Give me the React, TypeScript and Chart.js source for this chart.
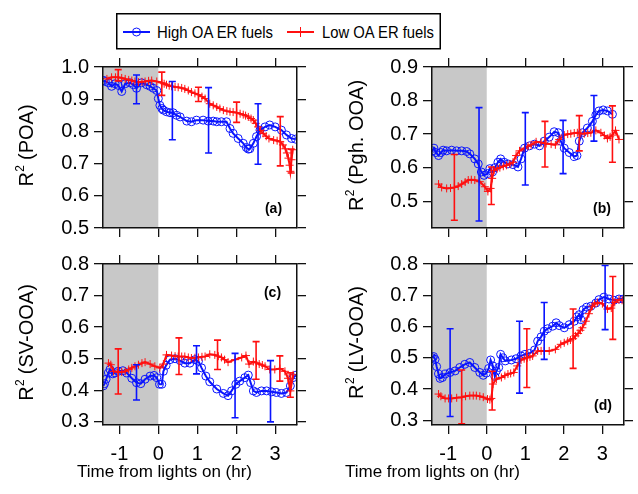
import React, { useEffect, useRef } from 'react';
import { Chart, registerables } from 'chart.js';

Chart.register(...registerables);

type Pt = [number, number];
type Err = [number, number, number];

// ---------------- data ----------------
const X_MIN = -1.42;
const X_MAX = 3.56;
const X_STEP = 1;
const Y_STEP = 0.1;
const X_TITLE = 'Time from lights on (hr)';
const SERIES_NAMES = ['High OA ER fuels', 'Low OA ER fuels'];

// (a) POA
const aHigh: Pt[] = [[-1.41,0.958],[-1.36,0.955],[-1.28,0.951],[-1.2,0.94],[-1.11,0.948],[-1.03,0.943],[-0.94,0.924],[-0.85,0.948],[-0.73,0.951],[-0.64,0.945],[-0.56,0.934],[-0.43,0.951],[-0.3,0.945],[-0.21,0.94],[-0.13,0.934],[-0.04,0.927],[0.0,0.902],[0.04,0.881],[0.09,0.871],[0.13,0.866],[0.21,0.861],[0.3,0.858],[0.38,0.858],[0.47,0.85],[0.56,0.845],[0.73,0.832],[0.85,0.83],[0.98,0.835],[1.15,0.835],[1.28,0.832],[1.41,0.832],[1.5,0.83],[1.62,0.83],[1.75,0.83],[1.84,0.809],[1.92,0.794],[2.05,0.778],[2.18,0.763],[2.26,0.75],[2.31,0.745],[2.35,0.746],[2.44,0.763],[2.52,0.784],[2.61,0.804],[2.74,0.814],[2.86,0.82],[3.0,0.814],[3.16,0.804],[3.29,0.789],[3.42,0.778],[3.52,0.776]];
const aLow: Pt[] = [[-1.32,0.963],[-1.2,0.968],[-1.1,0.968],[-1.03,0.968],[-0.94,0.966],[-0.85,0.963],[-0.76,0.96],[-0.68,0.958],[-0.6,0.955],[-0.51,0.953],[-0.42,0.954],[-0.34,0.955],[-0.25,0.957],[-0.17,0.958],[-0.04,0.955],[0.09,0.951],[0.15,0.948],[0.21,0.945],[0.28,0.942],[0.34,0.94],[0.43,0.938],[0.51,0.937],[0.6,0.935],[0.68,0.932],[0.77,0.927],[0.85,0.922],[0.94,0.918],[1.03,0.914],[1.12,0.908],[1.2,0.902],[1.32,0.886],[1.41,0.881],[1.5,0.876],[1.58,0.871],[1.67,0.866],[1.76,0.863],[1.84,0.861],[1.92,0.86],[2.01,0.858],[2.1,0.855],[2.18,0.852],[2.24,0.849],[2.31,0.845],[2.38,0.84],[2.44,0.835],[2.5,0.825],[2.56,0.814],[2.62,0.803],[2.69,0.794],[2.77,0.785],[2.84,0.778],[2.96,0.773],[3.05,0.771],[3.13,0.768],[3.2,0.758],[3.26,0.746],[3.3,0.733],[3.34,0.717],[3.37,0.695],[3.39,0.676],[3.42,0.712],[3.45,0.743]];
const aHighErr: Err[] = [[-0.56,0.886,0.975],[0.36,0.774,0.955],[1.29,0.733,0.936],[2.56,0.698,0.886]];
const aLowErr: Err[] = [[-1.03,0.957,0.992],[0.09,0.912,0.984],[1.03,0.893,0.937],[2.01,0.828,0.891],[3.13,0.693,0.846],[3.41,0.671,0.745]];

// (b) Pgh. OOA
const bHigh: Pt[] = [[-1.41,0.65],[-1.37,0.658],[-1.32,0.645],[-1.25,0.636],[-1.19,0.645],[-1.13,0.652],[-1.04,0.65],[-0.91,0.652],[-0.78,0.65],[-0.65,0.65],[-0.52,0.648],[-0.44,0.641],[-0.31,0.626],[-0.22,0.611],[-0.14,0.587],[-0.07,0.577],[0.02,0.582],[0.08,0.597],[0.15,0.587],[0.21,0.6],[0.29,0.616],[0.36,0.626],[0.45,0.616],[0.55,0.611],[0.68,0.609],[0.81,0.602],[0.89,0.626],[0.98,0.658],[1.11,0.665],[1.24,0.67],[1.37,0.665],[1.49,0.679],[1.62,0.691],[1.75,0.707],[1.86,0.704],[1.92,0.679],[2.01,0.658],[2.14,0.645],[2.27,0.633],[2.34,0.636],[2.4,0.679],[2.48,0.704],[2.61,0.718],[2.74,0.738],[2.83,0.757],[2.91,0.769],[3.02,0.772],[3.13,0.769],[3.26,0.759]];
const bLow: Pt[] = [[-1.25,0.551],[-1.17,0.541],[-1.04,0.538],[-0.94,0.539],[-0.84,0.541],[-0.74,0.545],[-0.65,0.551],[-0.56,0.557],[-0.48,0.563],[-0.4,0.564],[-0.31,0.563],[-0.18,0.558],[-0.05,0.543],[0.03,0.529],[0.1,0.538],[0.14,0.568],[0.19,0.592],[0.27,0.597],[0.34,0.6],[0.43,0.604],[0.51,0.607],[0.6,0.611],[0.68,0.616],[0.76,0.636],[0.85,0.65],[0.98,0.658],[1.07,0.664],[1.15,0.668],[1.28,0.677],[1.41,0.675],[1.54,0.672],[1.67,0.67],[1.78,0.668],[1.88,0.684],[2.01,0.697],[2.1,0.7],[2.18,0.701],[2.27,0.703],[2.35,0.704],[2.44,0.702],[2.53,0.701],[2.62,0.703],[2.7,0.704],[2.83,0.711],[2.96,0.704],[3.05,0.696],[3.13,0.687],[3.2,0.692],[3.26,0.697],[3.34,0.711],[3.43,0.684]];
const bHighErr: Err[] = [[-0.2,0.441,0.779],[1.0,0.548,0.764],[1.98,0.582,0.741],[2.78,0.679,0.815]];
const bLowErr: Err[] = [[-0.84,0.443,0.639],[0.12,0.49,0.602],[1.51,0.602,0.738],[2.4,0.65,0.755],[3.26,0.616,0.784]];

// (c) SV-OOA
const cHigh: Pt[] = [[-1.41,0.414],[-1.38,0.421],[-1.34,0.435],[-1.28,0.455],[-1.24,0.466],[-1.17,0.452],[-1.11,0.455],[-1.03,0.46],[-0.91,0.462],[-0.81,0.455],[-0.68,0.438],[-0.56,0.424],[-0.45,0.421],[-0.34,0.435],[-0.21,0.445],[-0.11,0.447],[-0.04,0.44],[0.03,0.419],[0.09,0.419],[0.13,0.46],[0.2,0.479],[0.3,0.497],[0.43,0.5],[0.56,0.494],[0.68,0.486],[0.81,0.486],[0.94,0.497],[1.03,0.492],[1.11,0.471],[1.22,0.445],[1.32,0.427],[1.5,0.404],[1.67,0.39],[1.79,0.383],[1.88,0.398],[1.99,0.419],[2.09,0.429],[2.22,0.44],[2.31,0.448],[2.37,0.424],[2.44,0.398],[2.52,0.393],[2.65,0.398],[2.78,0.398],[2.91,0.395],[3.03,0.393],[3.16,0.39],[3.29,0.393],[3.39,0.414],[3.46,0.44],[3.54,0.448]];
const cLow: Pt[] = [[-1.28,0.486],[-1.22,0.481],[-1.15,0.46],[-1.03,0.458],[-0.94,0.458],[-0.85,0.46],[-0.76,0.466],[-0.68,0.471],[-0.6,0.476],[-0.51,0.481],[-0.42,0.486],[-0.34,0.489],[-0.21,0.483],[-0.09,0.476],[0.04,0.471],[0.13,0.483],[0.21,0.512],[0.34,0.51],[0.43,0.508],[0.51,0.507],[0.6,0.507],[0.68,0.507],[0.77,0.504],[0.85,0.502],[0.94,0.503],[1.03,0.504],[1.12,0.506],[1.2,0.507],[1.32,0.514],[1.45,0.512],[1.54,0.508],[1.62,0.504],[1.7,0.497],[1.79,0.489],[1.97,0.497],[2.14,0.504],[2.25,0.51],[2.33,0.483],[2.44,0.491],[2.52,0.487],[2.59,0.483],[2.67,0.48],[2.74,0.476],[2.86,0.466],[2.99,0.466],[3.12,0.469],[3.25,0.46],[3.33,0.438],[3.39,0.398],[3.46,0.449]];
const cHighErr: Err[] = [[-0.56,0.369,0.481],[0.98,0.452,0.541],[1.97,0.313,0.517],[2.88,0.3,0.494]];
const cLowErr: Err[] = [[-1.03,0.388,0.531],[0.53,0.45,0.566],[1.52,0.466,0.559],[2.51,0.435,0.554],[3.12,0.429,0.509],[3.39,0.378,0.455]];

// (d) LV-OOA
const dHigh: Pt[] = [[-1.41,0.5],[-1.38,0.504],[-1.34,0.495],[-1.3,0.472],[-1.25,0.448],[-1.21,0.434],[-1.15,0.437],[-1.08,0.448],[-0.95,0.453],[-0.82,0.458],[-0.7,0.469],[-0.57,0.479],[-0.44,0.485],[-0.31,0.469],[-0.18,0.453],[-0.09,0.444],[-0.01,0.451],[0.05,0.466],[0.1,0.493],[0.16,0.474],[0.21,0.44],[0.25,0.458],[0.31,0.469],[0.36,0.511],[0.42,0.5],[0.48,0.49],[0.64,0.493],[0.76,0.497],[0.89,0.506],[0.99,0.511],[1.11,0.514],[1.24,0.525],[1.32,0.553],[1.41,0.567],[1.49,0.585],[1.58,0.593],[1.71,0.601],[1.8,0.612],[1.88,0.603],[2.01,0.596],[2.14,0.606],[2.27,0.617],[2.34,0.631],[2.4,0.638],[2.44,0.622],[2.5,0.654],[2.59,0.662],[2.7,0.665],[2.83,0.675],[2.91,0.686],[3.04,0.694],[3.17,0.688],[3.3,0.684],[3.43,0.688],[3.55,0.688]];
const dLow: Pt[] = [[-1.25,0.384],[-1.19,0.377],[-1.08,0.37],[-0.99,0.37],[-0.91,0.37],[-0.78,0.372],[-0.65,0.374],[-0.55,0.377],[-0.44,0.379],[-0.35,0.379],[-0.27,0.379],[-0.18,0.377],[-0.09,0.374],[0.02,0.368],[0.08,0.366],[0.12,0.37],[0.16,0.416],[0.25,0.432],[0.38,0.437],[0.47,0.443],[0.55,0.448],[0.62,0.45],[0.7,0.453],[0.79,0.474],[0.89,0.493],[0.97,0.497],[1.05,0.5],[1.12,0.503],[1.19,0.506],[1.32,0.522],[1.41,0.522],[1.49,0.522],[1.62,0.522],[1.78,0.527],[1.92,0.543],[2.01,0.548],[2.1,0.553],[2.17,0.557],[2.24,0.561],[2.3,0.57],[2.37,0.578],[2.43,0.588],[2.48,0.596],[2.57,0.617],[2.65,0.641],[2.74,0.665],[2.8,0.672],[2.87,0.677],[3.0,0.673],[3.13,0.656],[3.23,0.659],[3.32,0.677],[3.43,0.686],[3.51,0.684]];
const dHighErr: Err[] = [[-0.95,0.312,0.593],[0.85,0.387,0.617],[1.49,0.495,0.677],[3.07,0.59,0.795]];
const dLowErr: Err[] = [[-0.65,0.289,0.461],[0.14,0.333,0.457],[1.04,0.405,0.593],[2.24,0.466,0.656],[3.27,0.559,0.76]];

// ---------------- style ----------------
const FONT = "'Liberation Sans', Arial, Helvetica, sans-serif";
const BLUE = '#0a14ff';
const RED = '#ff1010';
const SHADE = '#c8c8c8';
const AXIS = '#111111';

interface Spec {
  tag: string;
  yName: string;
  yMin: number;
  yMax: number;
  high: Pt[];
  low: Pt[];
  highErr: Err[];
  lowErr: Err[];
  left: number;
  top: number;
  width: number;
  height: number;
  area: { left: number; top: number; right: number; bottom: number };
  showX: boolean;
  tagTop: boolean;
  tagDx: number;
  tagDy: number;
  titleBaseX: number;
  xTitleX: number | null;
}

const specs: Spec[] = [
  { tag: '(a)', yName: 'POA', yMin: 0.5, yMax: 1.0, high: aHigh, low: aLow, highErr: aHighErr, lowErr: aLowErr,
    left: 0, top: 50, width: 320, height: 195, area: { left: 103, top: 65, right: 297, bottom: 228 },
    showX: false, tagTop: false, tagDx: 23.5, tagDy: 19, titleBaseX: 33, xTitleX: null },
  { tag: '(b)', yName: 'Pgh. OOA', yMin: 0.42, yMax: 0.9, high: bHigh, low: bLow, highErr: bHighErr, lowErr: bLowErr,
    left: 320, top: 50, width: 318, height: 195, area: { left: 432, top: 65, right: 624, bottom: 228 },
    showX: false, tagTop: false, tagDx: 22, tagDy: 19, titleBaseX: 363, xTitleX: null },
  { tag: '(c)', yName: 'SV-OOA', yMin: 0.29, yMax: 0.8, high: cHigh, low: cLow, highErr: cHighErr, lowErr: cLowErr,
    left: 0, top: 247, width: 320, height: 247, area: { left: 103, top: 262, right: 297, bottom: 425 },
    showX: true, tagTop: true, tagDx: 24.5, tagDy: 29.5, titleBaseX: 33, xTitleX: 164.5 },
  { tag: '(d)', yName: 'LV-OOA', yMin: 0.285, yMax: 0.8, high: dHigh, low: dLow, highErr: dHighErr, lowErr: dLowErr,
    left: 320, top: 247, width: 318, height: 247, area: { left: 432, top: 262, right: 624, bottom: 425 },
    showX: true, tagTop: false, tagDx: 21, tagDy: 18.5, titleBaseX: 363, xTitleX: 432.5 },
];

function drawErrBars(ctx: CanvasRenderingContext2D, chart: any, errs: Err[], color: string) {
  const xs = chart.scales.x;
  const ys = chart.scales.y;
  ctx.save();
  ctx.strokeStyle = color;
  ctx.lineWidth = 1.6;
  for (const [x, lo, hi] of errs) {
    const px = xs.getPixelForValue(x);
    const p1 = ys.getPixelForValue(lo);
    const p2 = ys.getPixelForValue(hi);
    ctx.beginPath();
    ctx.moveTo(px, p1);
    ctx.lineTo(px, p2);
    ctx.moveTo(px - 3.5, p1);
    ctx.lineTo(px + 3.5, p1);
    ctx.moveTo(px - 3.5, p2);
    ctx.lineTo(px + 3.5, p2);
    ctx.stroke();
  }
  ctx.restore();
}

function makePlugin(s: Spec) {
  return {
    id: 'panelDeco',
    beforeDatasetsDraw(chart: any) {
      const { ctx, chartArea: ca, scales } = chart;
      const x0 = scales.x.getPixelForValue(X_MIN);
      const x1 = scales.x.getPixelForValue(0);
      ctx.save();
      ctx.fillStyle = SHADE;
      ctx.fillRect(x0, ca.top, x1 - x0, ca.bottom - ca.top);
      ctx.restore();
    },
    afterDatasetsDraw(chart: any) {
      const ctx = chart.ctx;
      drawErrBars(ctx, chart, s.lowErr, RED);
      drawErrBars(ctx, chart, s.highErr, BLUE);
    },
    afterDraw(chart: any) {
      const { ctx, chartArea: ca } = chart;
      ctx.save();
      ctx.fillStyle = '#000';
      // panel tag
      ctx.font = `bold 14px ${FONT}`;
      ctx.textAlign = 'center';
      ctx.textBaseline = 'middle';
      ctx.fillText(s.tag, ca.right - s.tagDx, s.tagTop ? ca.top + s.tagDy : ca.bottom - s.tagDy);
      // y title with superscript
      const big = `20px ${FONT}`;
      const small = `12px ${FONT}`;
      const rest = ` (${s.yName})`;
      ctx.font = big;
      const wR = ctx.measureText('R').width;
      const wRest = ctx.measureText(rest).width;
      ctx.font = small;
      const w2 = ctx.measureText('2').width;
      const total = wR + w2 + wRest;
      ctx.save();
      ctx.translate(s.titleBaseX - s.left, (ca.top + ca.bottom) / 2 - 2);
      ctx.rotate(-Math.PI / 2);
      ctx.textAlign = 'left';
      ctx.textBaseline = 'alphabetic';
      let x = -total / 2;
      ctx.font = big;
      ctx.fillText('R', x, 0);
      x += wR;
      ctx.font = small;
      ctx.fillText('2', x + 0.5, -9);
      x += w2;
      ctx.font = big;
      ctx.fillText(rest, x, 0);
      ctx.restore();
      // x title
      if (s.xTitleX !== null) {
        ctx.font = `17px ${FONT}`;
        ctx.textAlign = 'center';
        ctx.textBaseline = 'middle';
        ctx.fillText(X_TITLE, s.xTitleX - s.left, 472 - s.top);
      }
      ctx.restore();
    },
  };
}

function Panel({ s }: { s: Spec }) {
  const ref = useRef<HTMLCanvasElement | null>(null);
  useEffect(() => {
    if (!ref.current) return;
    const yTop = s.area.top - s.top;
    const yBottom = s.top + s.height - s.area.bottom;
    const xLeft = s.area.left - s.left;
    const xRight = s.left + s.width - s.area.right;
    const tickFont = { family: FONT, size: 20 };
    const grid = { display: true, drawOnChartArea: false, drawTicks: true, tickLength: 9, color: AXIS, lineWidth: 1.3 };
    const border = { display: true, color: AXIS, width: 1.5, z: 1 };
    const chart = new Chart(ref.current, {
      type: 'line',
      data: {
        datasets: [
          {
            label: SERIES_NAMES[1],
            data: s.low.map(([x, y]) => ({ x, y })),
            borderColor: RED,
            borderWidth: 2,
            pointStyle: 'cross',
            pointRadius: 4,
            pointBorderWidth: 1,
            pointBorderColor: RED,
            pointBackgroundColor: RED,
            tension: 0,
            fill: false,
          },
          {
            label: SERIES_NAMES[0],
            data: s.high.map(([x, y]) => ({ x, y })),
            borderColor: BLUE,
            borderWidth: 2,
            pointStyle: 'circle',
            pointRadius: 4,
            pointBorderWidth: 1,
            pointBorderColor: BLUE,
            pointBackgroundColor: 'rgba(0,0,0,0)',
            tension: 0,
            fill: false,
          },
        ],
      },
      options: {
        animation: false,
        responsive: false,
        maintainAspectRatio: false,
        events: [],
        layout: { padding: 0 },
        plugins: { legend: { display: false }, tooltip: { enabled: false }, title: { display: false } },
        scales: {
          x: {
            type: 'linear', position: 'bottom', min: X_MIN, max: X_MAX,
            afterFit: (sc: any) => { sc.height = yBottom; },
            ticks: { stepSize: X_STEP, includeBounds: false, display: s.showX, font: tickFont, color: '#000', padding: 8, maxRotation: 0, autoSkip: false, callback: (v: any) => String(Math.round(Number(v))) },
            grid, border,
          },
          x2: {
            type: 'linear', position: 'top', min: X_MIN, max: X_MAX,
            afterFit: (sc: any) => { sc.height = yTop; },
            ticks: { stepSize: X_STEP, includeBounds: false, display: false },
            grid, border,
          },
          y: {
            type: 'linear', position: 'left', min: s.yMin, max: s.yMax,
            afterFit: (sc: any) => { sc.width = xLeft; },
            ticks: { stepSize: Y_STEP, includeBounds: false, font: tickFont, color: '#000', padding: 5, autoSkip: false, callback: (v: any) => Number(v).toFixed(1) },
            grid, border,
          },
          y2: {
            type: 'linear', position: 'right', min: s.yMin, max: s.yMax,
            afterFit: (sc: any) => { sc.width = xRight; },
            ticks: { stepSize: Y_STEP, includeBounds: false, display: false },
            grid, border,
          },
        },
      } as any,
      plugins: [makePlugin(s)],
    });
    return () => chart.destroy();
  }, [s]);
  return (
    <canvas
      ref={ref}
      width={s.width}
      height={s.height}
      style={{ position: 'absolute', left: s.left, top: s.top, width: s.width, height: s.height, display: 'block' }}
    />
  );
}

function Legend() {
  return (
    <svg
      width={325}
      height={37}
      style={{ position: 'absolute', left: 116, top: 13, overflow: 'visible' }}
    >
      <rect x={0.75} y={0.75} width={323.5} height={35} fill="#fff" stroke="#000" strokeWidth={1.5} />
      <line x1={7} y1={19} x2={34} y2={19} stroke={BLUE} strokeWidth={2} />
      <circle cx={20.5} cy={19} r={4} fill="none" stroke={BLUE} strokeWidth={1} />
      <text x={41} y={19} dominantBaseline="central" fontFamily={FONT} fontSize={17} textLength={116} lengthAdjust="spacingAndGlyphs" fill="#000">{SERIES_NAMES[0]}</text>
      <line x1={171} y1={19} x2={198} y2={19} stroke={RED} strokeWidth={2} />
      <line x1={184.5} y1={14} x2={184.5} y2={24} stroke={RED} strokeWidth={1} />
      <text x={206} y={19} dominantBaseline="central" fontFamily={FONT} fontSize={17} textLength={112} lengthAdjust="spacingAndGlyphs" fill="#000">{SERIES_NAMES[1]}</text>
    </svg>
  );
}

export default function App() {
  return (
    <div style={{ position: 'absolute', left: 0, top: 0, width: 638, height: 494, background: '#fff', overflow: 'hidden' }}>
      {specs.map((s) => (
        <Panel key={s.tag} s={s} />
      ))}
      <Legend />
    </div>
  );
}
